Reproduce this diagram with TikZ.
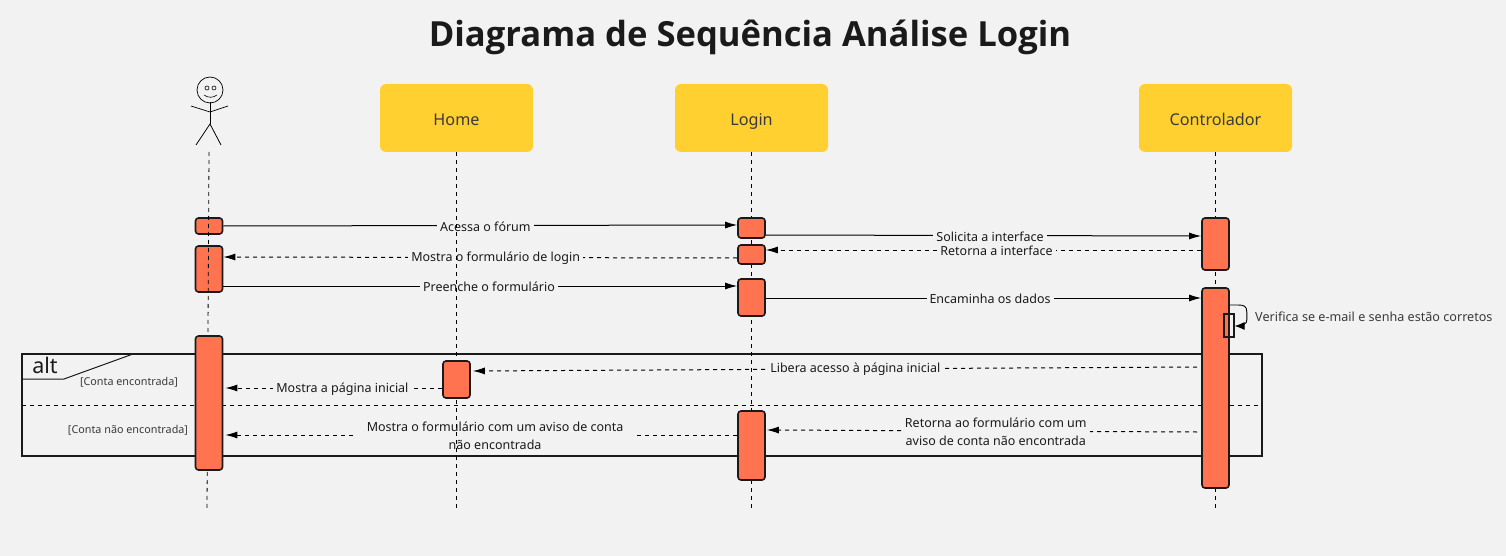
\documentclass[tikz,border=0pt]{standalone}
\usepackage{fontspec}
\setmainfont{Noto Sans}
\newfontfamily\titulofont{Open Sans}
\usetikzlibrary{arrows.meta,bending}
\definecolor{fundo}{HTML}{F2F2F2}
\definecolor{amarelo}{HTML}{FFD02F}
\definecolor{laranja}{HTML}{FF7350}
\definecolor{texto}{HTML}{1A1A1A}
\definecolor{cinza}{HTML}{3A3A3A}
\pgfdeclarelayer{msg}
\pgfsetlayers{msg,main}
\tikzset{
  header/.style={draw=none, fill=amarelo, rounded corners=6pt, minimum width=153pt, minimum height=68pt, inner sep=0pt, text=cinza, text height=18pt, text depth=2pt, font=\fontsize{16.2}{18}\selectfont},
  bar/.style={draw=texto, line width=1.6pt, fill=laranja, rounded corners=3pt, minimum width=27pt, inner sep=0pt},
  life/.style={black, line width=0.8pt, dash pattern=on 4pt off 4pt},
  call/.style={black, line width=1pt, -{Latex[length=12pt,width=7pt]}},
  back/.style={call, dash pattern=on 4pt off 4pt},
  lbl/.style={fill=fundo, inner ysep=1pt, inner xsep=3pt, align=center, yshift=-0.8pt, text=texto, font=\fontsize{12.5}{18}\selectfont},
  guard/.style={inner sep=0pt, text=cinza, font=\fontsize{10.8}{13}\selectfont}
}
\begin{document}
\begin{tikzpicture}[x=1pt, y=-1pt]
\begin{pgfonlayer}{msg}
\fill [fundo](0,0) rectangle (1506,556);
\draw [texto, line width=1.5pt](22,354) rectangle (1262,456); % alt
\draw [texto, line width=1pt](22,379) -- (64,379) -- (133,354);
\draw [black, line width=0.8pt, dash pattern=on 4pt off 4pt](22,405) -- (1262,405);
\end{pgfonlayer}

\node [text=texto, font=\fontsize{34.6}{40}\titulofont\bfseries] (titulo) at (750,37) {Diagrama de Sequência Análise Login};

% ator
\draw [black, line width=0.7pt](210,90) circle (13);
\draw [black, line width=0.6pt](207,88) circle (2) (214,88) circle (2);
\draw [black, line width=0.6pt](204,95) .. controls (208,98) and (213,98) .. (217,95);
\draw [black, line width=0.8pt](210,102) -- (210,124);
\draw [black, line width=0.7pt](191,106) -- (210,112) -- (228,106);
\draw [black, line width=0.8pt](196,145) -- (210,124) -- (221,145);

\node [header] (home) at (456.5,118) {Home};
\node [header] (login) at (751.5,118) {Login};
\node [header] (ctrl) at (1215.5,118) {Controlador};

\coordinate (atorTop) at (209,152);
\coordinate (atorEnd) at (207,508);
\coordinate (homeEnd) at (456.5,508);
\coordinate (loginEnd) at (751.5,508);
\coordinate (ctrlEnd) at (1215.5,508);

\node [bar, minimum height=16pt] (a1) at (209,226) {};
\node [bar, minimum height=46pt] (a2) at (209,269) {};
\draw [life](atorTop) -- (atorEnd);
\draw [life](home) -- (homeEnd);
\draw [life](login) -- (loginEnd);
\draw [life](ctrl) -- (ctrlEnd);

\node [bar, minimum height=134pt] (a3) at (209,403) {};
\node [bar, minimum height=37pt] (h1) at (456.5,379.5) {};
\node [bar, minimum height=20pt] (l1) at (751.5,228) {};
\node [bar, minimum height=19pt] (l2) at (751.5,254.5) {};
\node [bar, minimum height=37pt] (l3) at (751.5,297.5) {};
\node [bar, minimum height=69pt] (l4) at (751.5,445.5) {};
\node [bar, minimum height=52pt] (c1) at (1215.5,244) {};
\node [bar, minimum height=200pt] (c2) at (1215.5,388) {};
\node [draw=texto, line width=1.2pt, fill=none, minimum width=10pt, minimum height=23pt, inner sep=0pt] (c3) at (1229,325.5) {};

\node [text=texto, inner sep=0pt, font=\fontsize{21.5}{24}\selectfont] (alt) at (45,365) {alt};
\node [guard] (g1) at (129,382) {[Conta encontrada]};
\node [guard] (g2) at (128,430) {[Conta não encontrada]};

\begin{pgfonlayer}{msg}
\draw [call](a1.east) -- node[lbl, pos=.51]{Acessa o fórum} (l1.west |- 0,225);
\draw [call](l1.east |- 0,235) -- node[lbl, pos=.515]{Solicita a interface} (c1.west |- 0,236);
\draw [back](c1.west |- 0,250) -- node[lbl, pos=.47]{Retorna a interface} (l2.east |- 0,250);
\draw [back](l2.west |- 0,258) -- node[lbl, pos=.47]{Mostra o formulário de login} (a2.east |- 0,257);
\draw [call](a2.east |- 0,286) -- node[lbl, pos=.517]{Preenche o formulário} (l3.west |- 0,286);
\draw [call](l3.east |- 0,298) -- node[lbl, pos=.515]{Encaminha os dados} (c2.west |- 0,298);
\draw [back]([xshift=-4pt]c2.west |- 0,367) -- node[lbl, pos=.472]{Libera acesso à página inicial} ([xshift=2pt]h1.east |- 0,371);
\draw [back](h1.west |- 0,388) -- node[lbl, pos=.46]{Mostra a página inicial} ([xshift=2pt]a3.east |- 0,388);
\draw [back]([xshift=-4pt]c2.west |- 0,432) -- node[lbl, pos=.468]{Retorna ao formulário com um\\aviso de conta não encontrada} ([xshift=1pt]l4.east |- 0,430);
\draw [back](l4.west |- 0,435) -- node[lbl, pos=.473, inner xsep=10pt]{Mostra o formulário com um aviso de conta\\não encontrada} ([xshift=2pt]a3.east |- 0,435);
\end{pgfonlayer}

\draw [black, line width=0.9pt, -{Latex[length=10pt,width=8pt,flex=0]}](c2.east |- 0,305) -- ++(8,0) .. controls ++(6,0) and ++(0,-6) .. ++(9,7) -- ++(0,8) .. controls ++(0,3) and (1245,326) .. (c3.east |- 0,326);
\node [anchor=west, inner sep=0pt, text=cinza, font=\fontsize{12.6}{15}\selectfont] (verifica) at (1255,317) {Verifica se e-mail e senha estão corretos};

\end{tikzpicture}
\end{document}
